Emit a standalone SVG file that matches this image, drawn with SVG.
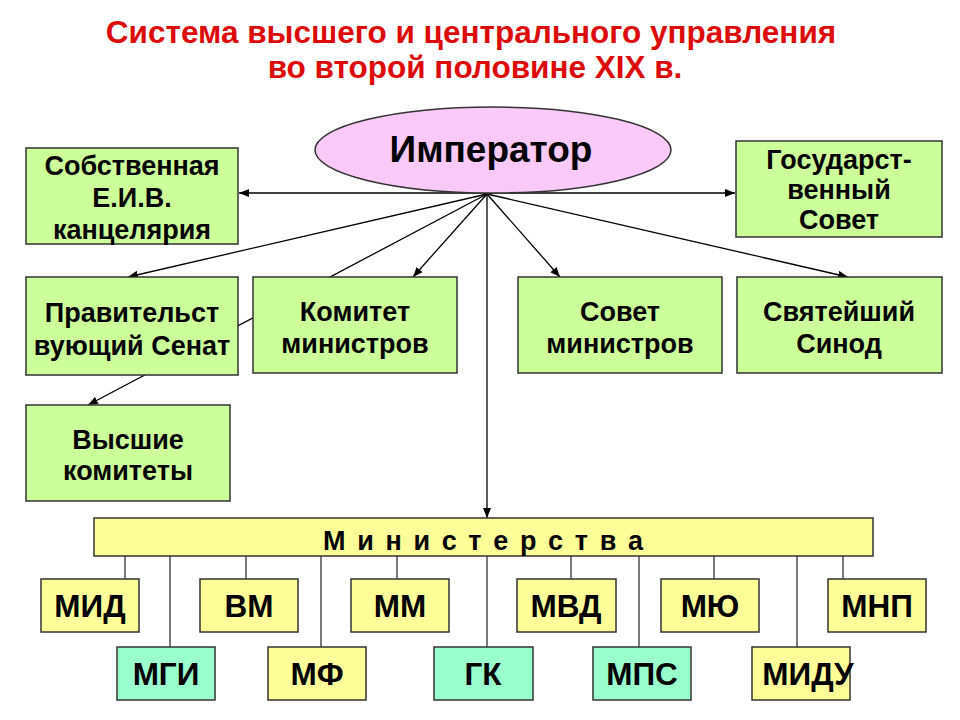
<svg xmlns="http://www.w3.org/2000/svg" width="960" height="720" viewBox="0 0 960 720">
<defs>
<marker id="arr" markerUnits="userSpaceOnUse" markerWidth="11" markerHeight="9" refX="10" refY="4" orient="auto">
<path d="M0,0 L10,4 L0,8 z" fill="#000"/>
</marker>
<style>
text{font-family:"Liberation Sans",Arial,sans-serif;font-weight:bold;text-anchor:middle;fill:#000}
.title{fill:#dd0a0a;font-size:31.5px}
.g{fill:#ccff99;stroke:#333;stroke-width:1.5}
.y{fill:#ffff99;stroke:#333;stroke-width:1.5}
.t{fill:#99ffcc;stroke:#333;stroke-width:1.5}
.bt{font-size:27px}
.mt{font-size:31.5px}
.c{stroke:#000;stroke-width:1.3;fill:none}
.m{stroke:#333;stroke-width:1.3;fill:none}
</style>
</defs>
<rect width="960" height="720" fill="#fff"/>
<g id="title">
<text class="title" x="471" y="43">Система высшего и центрального управления</text>
<text class="title" x="475" y="78">во второй половине XIX в.</text>
</g>
<g id="connectors">
<line class="c" x1="487" y1="193" x2="239" y2="193" marker-end="url(#arr)"/>
<line class="c" x1="487" y1="193" x2="735" y2="193" marker-end="url(#arr)"/>
<line class="c" x1="487" y1="194" x2="128" y2="277" marker-end="url(#arr)"/>
<line class="c" x1="487" y1="194" x2="413" y2="277" marker-end="url(#arr)"/>
<line class="c" x1="487" y1="194" x2="88" y2="405" marker-end="url(#arr)"/>
<line class="c" x1="487" y1="194" x2="560" y2="277" marker-end="url(#arr)"/>
<line class="c" x1="487" y1="194" x2="848" y2="277" marker-end="url(#arr)"/>
<line class="c" x1="487" y1="194" x2="487" y2="518" marker-end="url(#arr)"/>
<line class="m" x1="125" y1="556" x2="125" y2="579"/>
<line class="m" x1="170" y1="556" x2="170" y2="647"/>
<line class="m" x1="246" y1="556" x2="246" y2="579"/>
<line class="m" x1="321" y1="556" x2="321" y2="647"/>
<line class="m" x1="397" y1="556" x2="397" y2="579"/>
<line class="m" x1="487" y1="556" x2="487" y2="647"/>
<line class="m" x1="571" y1="556" x2="571" y2="579"/>
<line class="m" x1="639" y1="556" x2="639" y2="647"/>
<line class="m" x1="714" y1="556" x2="714" y2="579"/>
<line class="m" x1="797" y1="556" x2="797" y2="647"/>
<line class="m" x1="843" y1="556" x2="843" y2="579"/>
</g>
<g id="emperor">
<ellipse cx="493" cy="150" rx="178" ry="43" fill="#f9c9f7" stroke="#333" stroke-width="1.5"/>
<text x="491" y="162" font-size="37">Император</text>
</g>
<g id="kanc">
<rect class="g" x="26" y="148" width="212" height="96"/>
<text class="bt" x="132" y="175">Собственная</text>
<text class="bt" x="132" y="207">Е.И.В.</text>
<text class="bt" x="132" y="239">канцелярия</text>
</g>
<g id="gossovet">
<rect class="g" x="736" y="141" width="206" height="96"/>
<text class="bt" x="839" y="169">Государст-</text>
<text class="bt" x="839" y="199">венный</text>
<text class="bt" x="839" y="229">Совет</text>
</g>
<g id="senat">
<rect class="g" x="26" y="277" width="212" height="98"/>
<text class="bt" x="132" y="322">Правительст</text>
<text class="bt" x="132" y="355">вующий Сенат</text>
</g>
<g id="komitet">
<rect class="g" x="253" y="277" width="204" height="96"/>
<text class="bt" x="355" y="321">Комитет</text>
<text class="bt" x="355" y="353">министров</text>
</g>
<g id="sovet">
<rect class="g" x="518" y="277" width="204" height="96"/>
<text class="bt" x="620" y="321">Совет</text>
<text class="bt" x="620" y="353">министров</text>
</g>
<g id="sinod">
<rect class="g" x="737" y="277" width="205" height="96"/>
<text class="bt" x="839" y="321">Святейший</text>
<text class="bt" x="839" y="353">Синод</text>
</g>
<g id="vysshie">
<rect class="g" x="26" y="405" width="204" height="96"/>
<text class="bt" x="128" y="449">Высшие</text>
<text class="bt" x="128" y="480">комитеты</text>
</g>
<g id="ministerstva">
<rect class="y" x="94" y="518" width="779" height="38"/>
<text x="483" y="550" font-size="27" textLength="320" lengthAdjust="spacing">М и н и с т е р с т в а</text>
</g>
<g id="mid"><rect class="y" x="41" y="579" width="98" height="53"/><text class="mt" x="90" y="617">МИД</text></g>
<g id="vm"><rect class="y" x="200" y="579" width="98" height="53"/><text class="mt" x="249" y="617">ВМ</text></g>
<g id="mm"><rect class="y" x="351" y="579" width="98" height="53"/><text class="mt" x="400" y="617">ММ</text></g>
<g id="mvd"><rect class="y" x="517" y="579" width="99" height="53"/><text class="mt" x="566" y="617">МВД</text></g>
<g id="myu"><rect class="y" x="661" y="579" width="98" height="53"/><text class="mt" x="710" y="617">МЮ</text></g>
<g id="mnp"><rect class="y" x="828" y="579" width="98" height="53"/><text class="mt" x="877" y="617">МНП</text></g>
<g id="mgi"><rect class="t" x="117" y="647" width="98" height="53"/><text class="mt" x="166" y="685">МГИ</text></g>
<g id="mf"><rect class="y" x="268" y="647" width="98" height="53"/><text class="mt" x="317" y="685">МФ</text></g>
<g id="gk"><rect class="t" x="434" y="647" width="99" height="53"/><text class="mt" x="483" y="685">ГК</text></g>
<g id="mps"><rect class="t" x="593" y="647" width="98" height="53"/><text class="mt" x="642" y="685">МПС</text></g>
<g id="midu"><rect class="y" x="752" y="647" width="98" height="53"/><text class="mt" x="808" y="685">МИДУ</text></g>
</svg>
